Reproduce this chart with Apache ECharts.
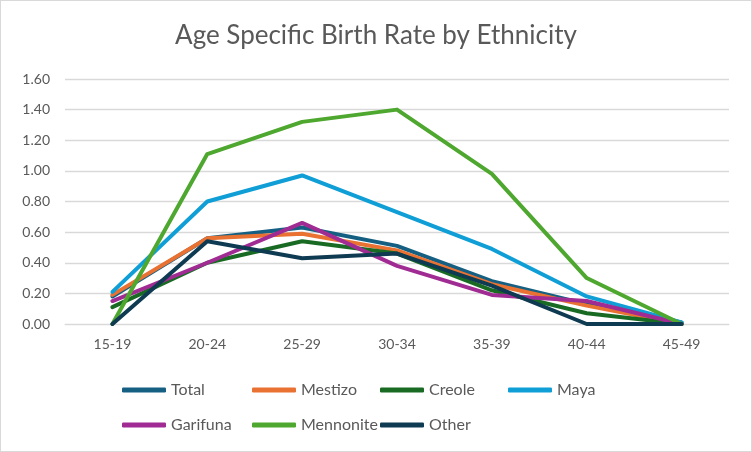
<!DOCTYPE html>
<html><head><meta charset="utf-8">
<script src="https://cdn.jsdelivr.net/npm/echarts@6/dist/echarts.min.js"></script>
<style>html,body{margin:0;padding:0;background:#fff}#c{width:750px;height:450px;border:1px solid #d9d9d9}</style>
</head><body><div id="c"></div>
<script>
const categories = ['15-19','20-24','25-29','30-34','35-39','40-44','45-49'];
const total     = [0.18, 0.56, 0.63, 0.51, 0.28, 0.13, 0.01];
const mestizo   = [0.19, 0.56, 0.59, 0.48, 0.26, 0.12, 0.00];
const creole    = [0.11, 0.40, 0.54, 0.46, 0.22, 0.07, 0.00];
const maya      = [0.21, 0.80, 0.97, 0.73, 0.49, 0.18, 0.01];
const garifuna  = [0.15, 0.40, 0.66, 0.38, 0.19, 0.15, 0.00];
const mennonite = [0.00, 1.11, 1.32, 1.40, 0.98, 0.30, 0.00];
const other     = [0.00, 0.54, 0.43, 0.46, 0.25, 0.00, 0.00];
const yTicks = [0,0.2,0.4,0.6,0.8,1.0,1.2,1.4,1.6];

const seriesDefs = [
  ['Total', total, '#156082'],
  ['Mestizo', mestizo, '#E97132'],
  ['Creole', creole, '#196B24'],
  ['Maya', maya, '#0F9ED5'],
  ['Garifuna', garifuna, '#A02B93'],
  ['Mennonite', mennonite, '#4EA72E'],
  ['Other', other, '#0E3A52']
];
const font = 'Lato, "Open Sans", sans-serif';
const legendPos = [[121,381],[251,381],[379,381],[507,381],[121,416],[251,416],[379,416]];
const chart = echarts.init(document.getElementById('c'));
chart.setOption({
  animation:false,
  title:{text:'Age Specific Birth Rate by Ethnicity',left:'center',top:17,
    textStyle:{fontFamily:font,fontSize:26,fontWeight:'normal',color:'#595959'}},
  grid:{left:64,right:22,top:78,bottom:127},
  legend: seriesDefs.map((s,i)=>({data:[s[0]],left:legendPos[i][0],top:legendPos[i][1],padding:0,
    icon:'roundRect',itemWidth:44,itemHeight:5,
    textStyle:{fontFamily:font,fontSize:16,color:'#595959'}})),
  xAxis:{type:'category',data:categories,boundaryGap:true,
    axisLine:{lineStyle:{color:'#d9d9d9'}},axisTick:{show:false},
    axisLabel:{fontFamily:font,fontSize:14,color:'#595959',margin:13}},
  yAxis:{type:'value',min:0,max:1.6,interval:0.2,
    axisLine:{show:false},axisTick:{show:false},
    splitLine:{lineStyle:{color:'#d9d9d9',width:1.3}},
    axisLabel:{fontFamily:font,fontSize:14,color:'#595959',margin:15,formatter:v=>v.toFixed(2)}},
  series: seriesDefs.map(s=>({name:s[0],type:'line',data:s[1],symbol:'none',
    lineStyle:{width:4,color:s[2],cap:'round',join:'round'},itemStyle:{color:s[2]}}))
});
</script></body></html>
